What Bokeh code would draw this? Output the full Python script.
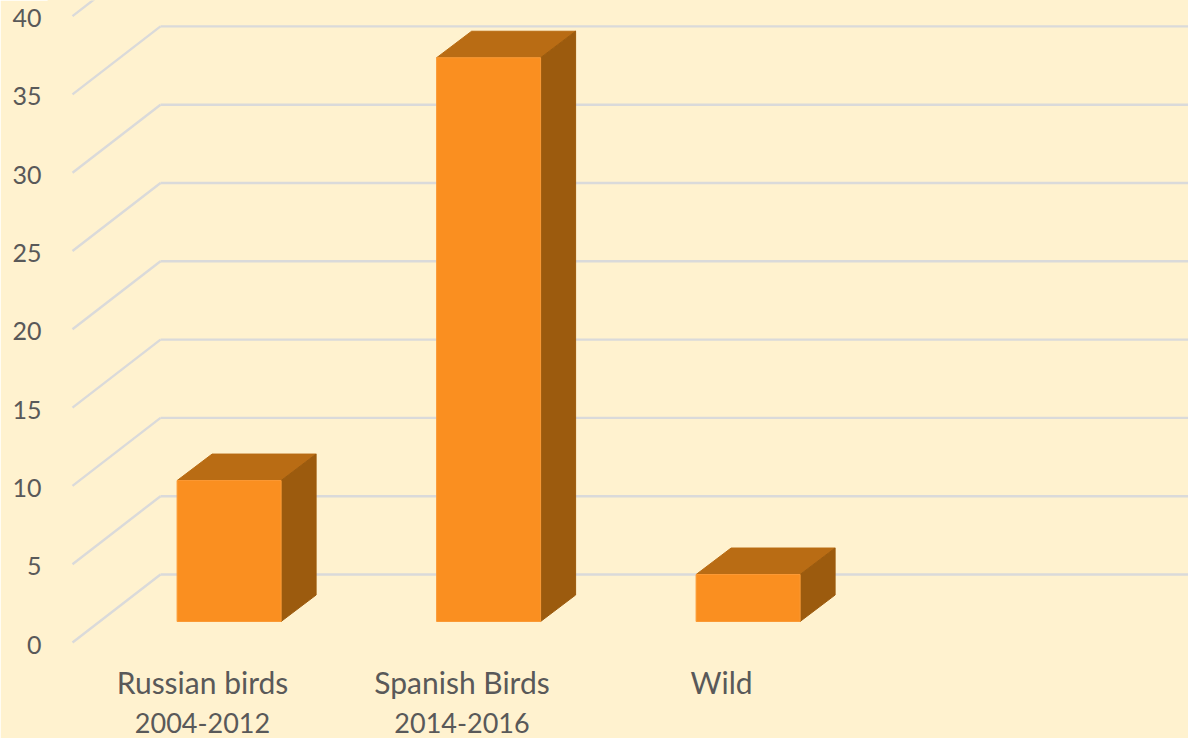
from bokeh.plotting import figure
from bokeh.models import Range1d, LinearAxis, FixedTicker
from bokeh.core.properties import value
from bokeh.embed import file_html
from bokeh.resources import INLINE

# ---- data
categories = ["Russian birds", "Spanish Birds", "Wild"]
periods = ["2004-2012", "2014-2016"]
values = [9, 36, 3]
y_ticks = [0, 5, 10, 15, 20, 25, 30, 35, 40]

# ---- styles
BG = "#fff2cf"
FRONT = "#fa8f20"
TOP = "#b96c14"
SIDE = "#9c5b0e"
GRID = "#dadada"
TEXT = "#595959"
FONT = "Lato"

# ---- geometry (picture pixels -> data scale)
W, H = 1188, 738
F_L, F_T, F_R, F_B = 48, 0, W, H   # frame box in picture px
PX_Y = 15.66      # px per value unit
PX_X = 259.5      # px per category
X0 = 228.6        # first bar centre
Y0 = 621          # bar base

x_start, x_end = (F_L - X0) / PX_X, (F_R - X0) / PX_X
y_start, y_end = (Y0 - F_B) / PX_Y, (Y0 - F_T) / PX_Y

p = figure(width=W, height=H, output_backend="svg", toolbar_location=None,
           x_range=Range1d(x_start, x_end), y_range=Range1d(y_start, y_end),
           x_axis_location=None, y_axis_location=None,
           frame_width=F_R - F_L, frame_height=F_B - F_T,
           min_border_left=F_L, min_border_right=0, min_border_top=0, min_border_bottom=0,
           background_fill_color=BG, border_fill_color=BG,
           outline_line_color=BG, outline_line_width=2)
p.grid.visible = False

# ---- pseudo-3D walls
WALL_X = (160 - X0) / PX_X
FRONT_X = (72 - X0) / PX_X
WALL_DY = (Y0 - 574) / PX_Y
FRONT_DY = (Y0 - 642) / PX_Y
wall_ticks = y_ticks
p.segment(x0=[WALL_X] * len(wall_ticks), x1=[x_end] * len(wall_ticks),
          y0=[v + WALL_DY for v in wall_ticks], y1=[v + WALL_DY for v in wall_ticks],
          line_color=GRID, line_width=2.4)
p.segment(x0=[FRONT_X] * len(wall_ticks), x1=[WALL_X] * len(wall_ticks),
          y0=[v + FRONT_DY for v in wall_ticks], y1=[v + WALL_DY for v in wall_ticks],
          line_color=GRID, line_width=2.4)

# ---- bars
HALF = 52 / PX_X
DX = 35 / PX_X
DY = 26.5 / PX_Y
xs = list(range(len(values)))
p.patches(xs=[[i - HALF, i + HALF, i + HALF + DX, i - HALF + DX] for i in xs],
          ys=[[v, v, v + DY, v + DY] for v in values],
          fill_color=TOP, line_color=TOP, line_width=1)
p.patches(xs=[[i + HALF, i + HALF + DX, i + HALF + DX, i + HALF] for i in xs],
          ys=[[0, DY, v + DY, v] for v in values],
          fill_color=SIDE, line_color=SIDE, line_width=1)
p.quad(left=[i - HALF for i in xs], right=[i + HALF for i in xs],
       bottom=[0] * len(values), top=values,
       fill_color=FRONT, line_color="#fb9a35", line_width=1)

# ---- value axis
p.extra_y_ranges = {"front": Range1d((644 - F_B) / PX_Y, (644 - F_T) / PX_Y)}
yax = LinearAxis(y_range_name="front", ticker=FixedTicker(ticks=y_ticks),
                 axis_line_color=None, major_tick_line_color=None, minor_tick_line_color=None,
                 major_label_text_font=FONT, major_label_text_font_size="25px",
                 major_label_text_color=TEXT, major_label_standoff=1)
p.add_layout(yax, "left")

# ---- category labels, two lines each
LABEL_DX = (202 - X0) / PX_X
p.text(x=[i + LABEL_DX for i in xs], y=[(Y0 - 681) / PX_Y] * len(xs), text=categories,
       text_font=value(FONT), text_font_size="30px", text_color=TEXT,
       text_align="center", text_baseline="middle")
p.text(x=[i + LABEL_DX for i in range(len(periods))], y=[(Y0 - 722) / PX_Y] * len(periods),
       text=periods, text_font=value(FONT), text_font_size="27px", text_color=TEXT,
       text_align="center", text_baseline="middle")

open("out.html", "w").write(file_html(p, INLINE))
